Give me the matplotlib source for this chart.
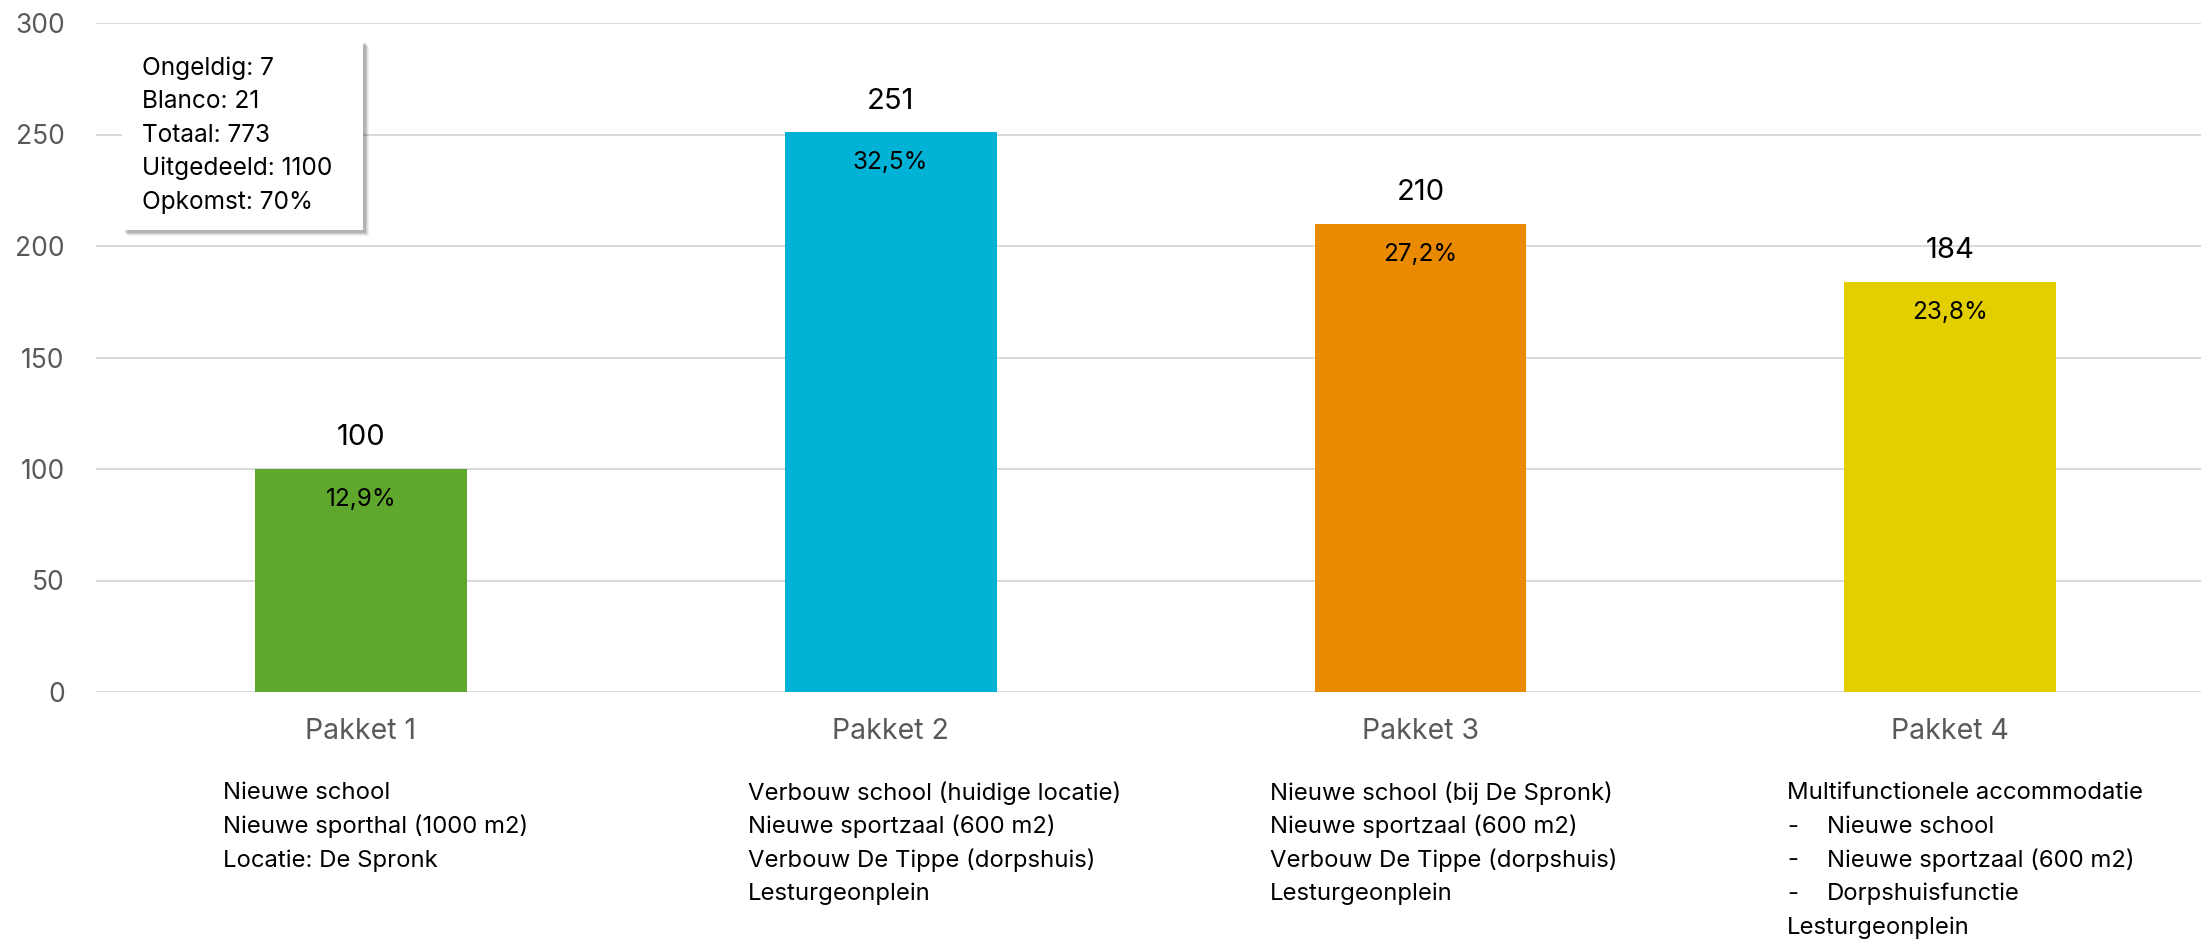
import matplotlib
matplotlib.use("Agg")
import matplotlib.pyplot as plt
from matplotlib.patches import Rectangle

categories = ["Pakket 1", "Pakket 2", "Pakket 3", "Pakket 4"]
votes = [100, 251, 210, 184]
percent_labels = ["12,9%", "32,5%", "27,2%", "23,8%"]
bar_colors = ["#5FA72D", "#00B3D6", "#E98A00", "#E3CF00"]
yticks = [0, 50, 100, 150, 200, 250, 300]
stats_lines = ["Ongeldig: 7", "Blanco: 21", "Totaal: 773", "Uitgedeeld: 1100", "Opkomst: 70%"]
desc_1 = ["Nieuwe school", "Nieuwe sporthal (1000 m2)", "Locatie: De Spronk"]
desc_2 = ["Verbouw school (huidige locatie)", "Nieuwe sportzaal (600 m2)",
          "Verbouw De Tippe (dorpshuis)", "Lesturgeonplein"]
desc_3 = ["Nieuwe school (bij De Spronk)", "Nieuwe sportzaal (600 m2)",
          "Verbouw De Tippe (dorpshuis)", "Lesturgeonplein"]
desc_4 = ["Multifunctionele accommodatie", "-\tNieuwe school", "-\tNieuwe sportzaal (600 m2)",
          "-\tDorpshuisfunctie", "Lesturgeonplein"]
descriptions = [desc_1, desc_2, desc_3, desc_4]

FONT = ["Inter", "DejaVu Sans"]
plt.rcParams["font.family"] = FONT

W, H = 2201, 943
fig = plt.figure(figsize=(W / 100, H / 100), dpi=100)
fig.patch.set_facecolor("white")

ax_left_px, ax_bottom_px, ax_top_px = 96, 692, 23
ax = fig.add_axes([ax_left_px / W, (H - ax_bottom_px) / H,
                   1 - ax_left_px / W, (ax_bottom_px - ax_top_px) / H])
cat_px = 529.8
xs = list(range(len(categories)))
ax.set_xlim(-0.5, -0.5 + (W - ax_left_px) / cat_px)
ax.set_ylim(0, 300)

ax.bar(xs, votes, width=0.4, color=bar_colors, zorder=2)

for y in yticks:
    ax.axhline(y, color="#D9D9D9", linewidth=1.4, zorder=1)
for s in ax.spines.values():
    s.set_visible(False)

ax.set_yticks(yticks)
ax.set_yticklabels([str(v) for v in yticks], fontsize=19, color="#595959")
ax.tick_params(axis="y", length=0, pad=22.5)
ax.set_xticks(xs)
ax.set_xticklabels(categories, fontsize=20.5, color="#595959")
ax.tick_params(axis="x", length=0, pad=19)

for x, v, p in zip(xs, votes, percent_labels):
    ax.annotate(str(v), (x, v), xytext=(0, 22.5), textcoords="offset points",
                ha="center", va="center", fontsize=21, color="#000000")
    ax.annotate(p, (x, v), xytext=(0, -22), textcoords="offset points",
                ha="center", va="center", fontsize=17.5, color="#000000")

# statistics box with soft shadow
bx0, by0, bx1, by1 = 122, 40, 363, 230
for i, a in enumerate([0.05, 0.07, 0.09, 0.12]):
    off = 6 - i
    fig.patches.append(Rectangle(((bx0 + off) / W, (H - by1 - off) / H),
                                 (bx1 - bx0) / W, (by1 - by0) / H,
                                 transform=fig.transFigure, facecolor="black",
                                 edgecolor="none", alpha=a, zorder=5))
fig.patches.append(Rectangle((bx0 / W, (H - by1) / H), (bx1 - bx0) / W, (by1 - by0) / H,
                             transform=fig.transFigure, facecolor="white",
                             edgecolor="none", zorder=6))
for i, line in enumerate(stats_lines):
    fig.text(142 / W, (H - (68 + 33.5 * i)) / H, line, fontsize=17.6,
             ha="left", va="center", color="#000000", zorder=7)

# descriptions under each package
desc_x = [223, 748, 1270, 1787]
indent_x = 1827
for dx, lines in zip(desc_x, descriptions):
    for i, line in enumerate(lines):
        yy = (H - (793 + 33.7 * i)) / H
        if line.startswith("-\t"):
            fig.text(dx / W, yy, "-", fontsize=17.2, ha="left", va="center", color="#000000")
            fig.text(indent_x / W, yy, line[2:], fontsize=17.2, ha="left", va="center", color="#000000")
        else:
            fig.text(dx / W, yy, line, fontsize=17.2, ha="left", va="center", color="#000000")

fig.savefig("out.png", dpi=100)
